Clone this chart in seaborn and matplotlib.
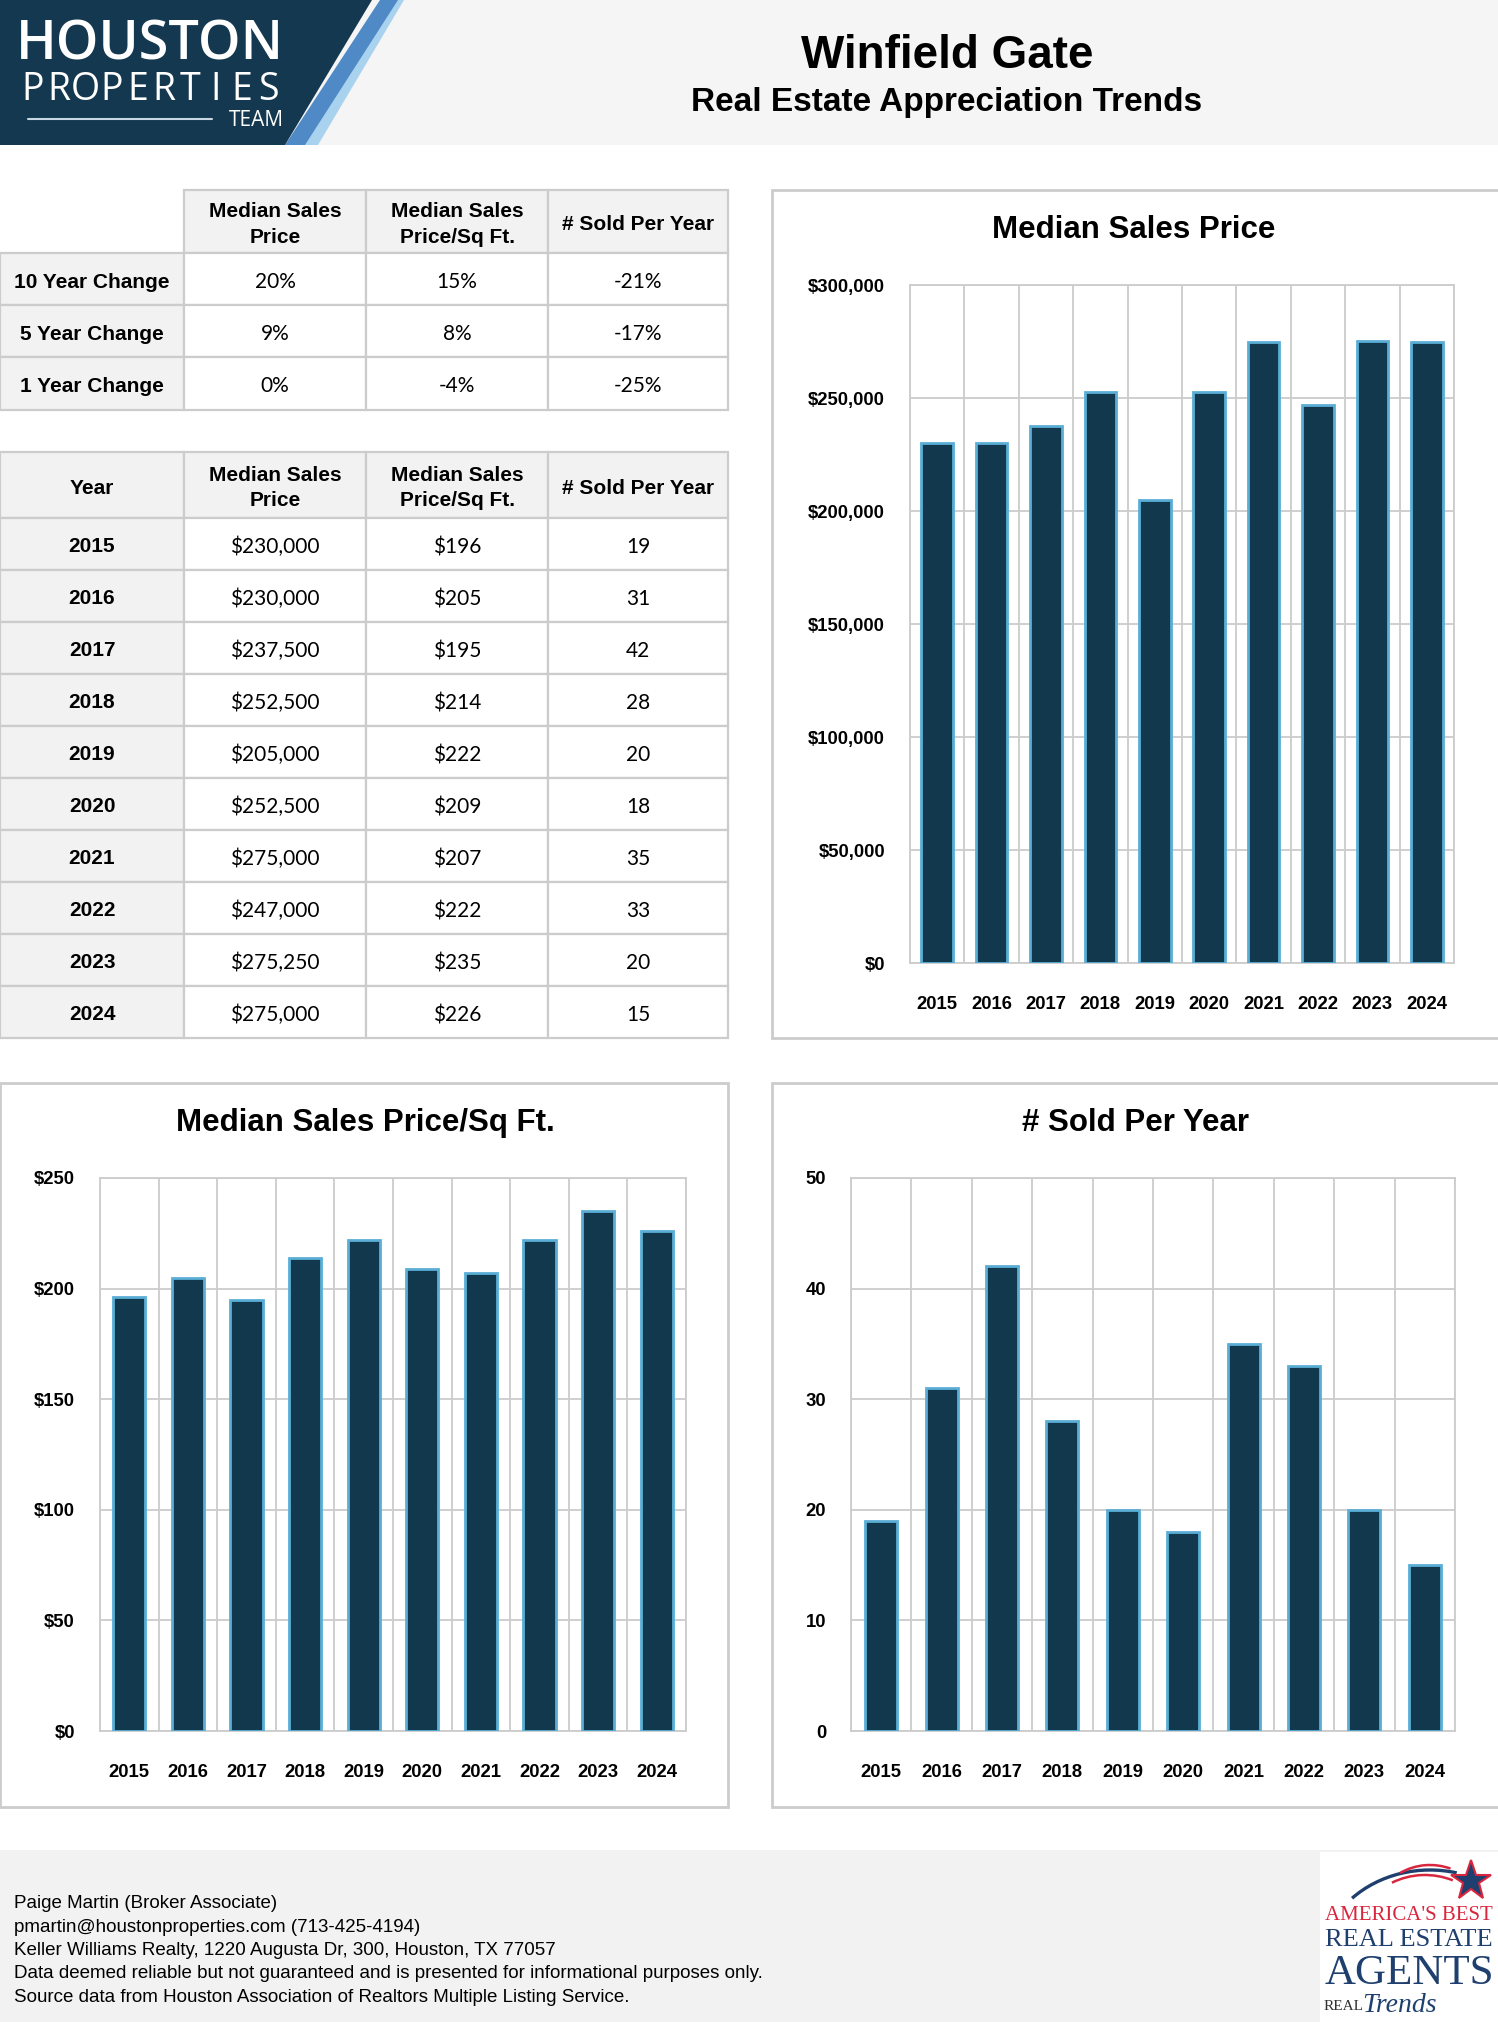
import numpy as np
import pandas as pd
import matplotlib
matplotlib.use("Agg")
import matplotlib.pyplot as plt
import seaborn as sns
from matplotlib.patches import Rectangle, Polygon, Arc
from matplotlib.ticker import FuncFormatter

# --- data ---
years = [2015, 2016, 2017, 2018, 2019, 2020, 2021, 2022, 2023, 2024]
median_price = [230000, 230000, 237500, 252500, 205000, 252500, 275000, 247000, 275250, 275000]
price_sqft = [196, 205, 195, 214, 222, 209, 207, 222, 235, 226]
sold_per_year = [19, 31, 42, 28, 20, 18, 35, 33, 20, 15]

change_labels = ["10 Year Change", "5 Year Change", "1 Year Change"]
change_price = ["20%", "9%", "0%"]
change_sqft = ["15%", "8%", "-4%"]
change_sold = ["-21%", "-17%", "-25%"]

col_headers = ["Median Sales\nPrice", "Median Sales\nPrice/Sq Ft.", "# Sold Per Year"]
footer_lines = [
    "Paige Martin (Broker Associate)",
    "pmartin@houstonproperties.com (713-425-4194)",
    "Keller Williams Realty, 1220 Augusta Dr, 300, Houston, TX 77057",
    "Data deemed reliable but not guaranteed and is presented for informational purposes only.",
    "Source data from Houston Association of Realtors Multiple Listing Service.",
]

sns.set_style("white")
plt.rcParams["font.family"] = ["Liberation Sans", "DejaVu Sans"]
plt.rcParams["text.color"] = "black"
plt.rcParams["xtick.color"] = "black"
plt.rcParams["ytick.color"] = "black"

NAVY = "#12384e"
EDGE = "#5aaed6"
GRID = "#cccccc"
LIGHT = "#f2f2f2"

W, H = 1498, 2022


def rect(x0, y0, x1, y1):
    return [x0 / W, 1 - y1 / H, (x1 - x0) / W, (y1 - y0) / H]


fig = plt.figure(figsize=(W / 100, H / 100), dpi=100)
bg = fig.add_axes([0, 0, 1, 1])
bg.set_xlim(0, W)
bg.set_ylim(H, 0)
bg.axis("off")

# --- header band and logo ---
bg.add_patch(Rectangle((0, 0), W, 145, color="#f5f5f5", lw=0))
bg.add_patch(Polygon([(300, 145), (392, 0), (404, 0), (318, 145)], closed=True, color="#a9d2ef", lw=0))
bg.add_patch(Polygon([(285, 145), (380, 0), (398, 0), (305, 145)], closed=True, color="#4f8ac6", lw=0))
bg.add_patch(Polygon([(0, 0), (372, 0), (285, 145), (0, 145)], closed=True, color="#14384f", lw=0))
bg.text(150, 45, "HOUSTON", color="white", fontsize=39, fontweight="semibold",
        family="Open Sans", ha="center", va="center")
for ch, xc in zip("PROPERTIES", np.linspace(33, 268, 10)):
    bg.text(xc, 90, ch, color="white", fontsize=27, family="Open Sans",
            ha="center", va="center")
bg.plot([28, 212], [119, 119], color="#c8d6e2", lw=1.5)
bg.text(284, 121, "TEAM", color="white", fontsize=15, family="Open Sans",
        ha="right", va="center")

bg.text(947, 56, "Winfield Gate", fontsize=33, fontweight="bold",
        ha="center", va="center")
bg.text(947, 103, "Real Estate Appreciation Trends", fontsize=24, fontweight="bold",
        ha="center", va="center")


# --- tables ---
def draw_table(x_edges, y_edges, rows, blank_corner):
    for r, row in enumerate(rows):
        for c, txt in enumerate(row):
            x0, x1 = x_edges[c], x_edges[c + 1]
            y0, y1 = y_edges[r], y_edges[r + 1]
            head = r == 0 or c == 0
            if blank_corner and r == 0 and c == 0:
                continue
            bg.add_patch(Rectangle((x0, y0), x1 - x0, y1 - y0,
                                   facecolor=LIGHT if head else "white",
                                   edgecolor=GRID, lw=1.6))
            yc = (y0 + y1) / 2 + 3
            if head:
                bg.text((x0 + x1) / 2, yc, txt, fontsize=15,
                        fontweight="bold", ha="center", va="center", linespacing=1.45)
            else:
                bg.text((x0 + x1) / 2, yc, txt, fontsize=15,
                        family="Lato", ha="center", va="center")


xe = [0, 184, 366, 548, 728]
rows1 = [[""] + col_headers]
for i, lab in enumerate(change_labels):
    rows1.append([lab, change_price[i], change_sqft[i], change_sold[i]])
draw_table(xe, [190, 253, 305, 357, 410], rows1, True)

rows2 = [["Year"] + col_headers]
for i, y in enumerate(years):
    rows2.append([str(y), f"${median_price[i]:,.0f}", f"${price_sqft[i]:,.0f}", str(sold_per_year[i])])
draw_table(xe, [452] + [518 + 52 * i for i in range(11)], rows2, False)

# --- chart panels ---
panels = [(772, 190, 1500, 1038), (0, 1083, 728, 1807), (772, 1083, 1500, 1807)]
for x0, y0, x1, y1 in panels:
    bg.add_patch(Rectangle((x0, y0), x1 - x0, y1 - y0, facecolor="white", edgecolor=GRID, lw=2))


def bar_chart(box, vals, ymax, step, fmt, width, title, title_xy):
    ax = fig.add_axes(rect(*box))
    df = pd.DataFrame({"Year": [str(y) for y in years], "Value": vals})
    sns.barplot(data=df, x="Year", y="Value", ax=ax, color=NAVY, edgecolor=EDGE,
                linewidth=2, width=width, saturation=1, zorder=3)
    ax.set_xlim(-0.5, len(years) - 0.5)
    ax.set_ylim(0, ymax)
    ax.set_yticks(np.arange(0, ymax + 1, step))
    ax.yaxis.set_major_formatter(FuncFormatter(fmt))
    ax.set_xticks(np.arange(-0.5, len(years), 1), minor=True)
    ax.set_axisbelow(True)
    ax.grid(False)
    ax.grid(axis="x", which="minor", color=GRID, lw=1.3)
    ax.grid(axis="y", which="major", color=GRID, lw=1.3)
    ax.tick_params(axis="x", which="minor", length=0)
    ax.tick_params(axis="both", which="major", length=8, width=2.2, color="black",
                   direction="out", labelsize=13.3)
    ax.tick_params(axis="x", which="major", pad=16)
    ax.tick_params(axis="y", which="major", pad=10)
    for lab in ax.get_xticklabels() + ax.get_yticklabels():
        lab.set_fontweight("bold")
    for s in ax.spines.values():
        s.set_color(GRID)
        s.set_linewidth(1.3)
    ax.set_xlabel("")
    ax.set_ylabel("")
    bg.text(title_xy[0], title_xy[1], title, fontsize=22.5, fontweight="bold",
            ha="center", va="center")
    return ax


bar_chart((910, 285, 1454, 963), median_price, 300000, 50000,
          lambda v, p: f"${v:,.0f}", 0.58, "Median Sales Price", (1134, 230))
bar_chart((100, 1178, 686, 1731), price_sqft, 250, 50,
          lambda v, p: f"${v:,.0f}", 0.55, "Median Sales Price/Sq Ft.", (365, 1123))
bar_chart((851, 1178, 1455, 1731), sold_per_year, 50, 10,
          lambda v, p: f"{v:.0f}", 0.53, "# Sold Per Year", (1136, 1123))

# --- footer ---
bg.add_patch(Rectangle((0, 1850), W, H - 1850, color=LIGHT, lw=0))
for i, line in enumerate(footer_lines):
    bg.text(14, 1904 + 23.3 * i, line, fontsize=13.5, ha="left", va="center")

bg.add_patch(Rectangle((1320, 1852), 178, 170, color="white", lw=0))
bg.add_patch(Arc((1430, 1966), 220, 192, theta1=221, theta2=286, color="#1f3f6e", lw=2.4))
bg.add_patch(Arc((1425, 1940), 140, 130, theta1=240, theta2=295, color="#d9263f", lw=1.8))
bg.add_patch(Arc((1430, 1925), 120, 120, theta1=240, theta2=290, color="#d9263f", lw=1.8))
bg.plot([1471], [1881], marker="*", markersize=30, color="#1f3f6e",
        markeredgecolor="#d9263f", markeredgewidth=1.5)
bg.text(1409, 1916, "AMERICA'S BEST", color="#d9263f", fontsize=15,
        family="Liberation Serif", ha="center", va="center")
bg.text(1409, 1940, "REAL ESTATE", color="#1f3f6e", fontsize=19,
        family="Liberation Serif", ha="center", va="center")
bg.text(1409, 1974, "AGENTS", color="#1f3f6e", fontsize=31,
        family="Liberation Serif", ha="center", va="center")
bg.text(1324, 2006, "REAL", color="#333333", fontsize=11,
        family="Liberation Serif", ha="left", va="center")
bg.text(1362, 2005, "Trends", color="#1f3f6e", fontsize=20, style="italic",
        family="Liberation Serif", ha="left", va="center")

fig.savefig("out.png", dpi=100)
